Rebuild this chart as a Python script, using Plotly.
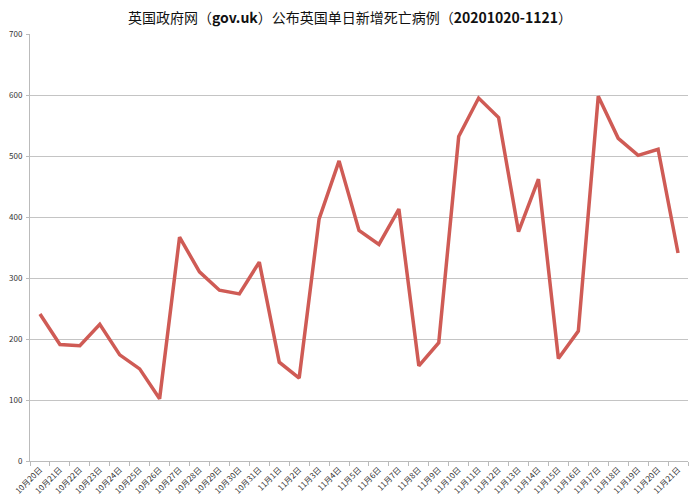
import plotly.graph_objects as go

dates = ["10月20日","10月21日","10月22日","10月23日","10月24日","10月25日","10月26日",
         "10月27日","10月28日","10月29日","10月30日","10月31日","11月1日","11月2日",
         "11月3日","11月4日","11月5日","11月6日","11月7日","11月8日","11月9日",
         "11月10日","11月11日","11月12日","11月13日","11月14日","11月15日","11月16日",
         "11月17日","11月18日","11月19日","11月20日","11月21日"]
deaths = [241,191,189,224,174,151,102,367,310,280,274,326,162,136,
          397,492,378,355,413,156,194,532,595,563,376,462,168,213,
          598,529,501,511,341]
y_ticks = [0,100,200,300,400,500,600,700]

font_family = "Noto Sans CJK SC, Noto Sans, sans-serif"

L, R, T, B = 22, 20, 26, 47
W, H = 700, 500
PW, PH = W - L - R, H - T - B

fig = go.Figure()
fig.add_trace(go.Scatter(
    x=dates, y=deaths, mode="lines",
    line=dict(color="#CF5B55", width=3.5),
    hoverinfo="x+y", showlegend=False,
))

fig.update_layout(
    width=W, height=H,
    margin=dict(l=L, r=R, t=T, b=B, autoexpand=False),
    paper_bgcolor="white", plot_bgcolor="white",
    font=dict(family=font_family, color="#222"),
    title=dict(
        text="英国政府网（<b>gov.uk</b>）公布英国单日新增死亡病例（<b>20201020-1121</b>）",
        x=342 / W, xref="container", y=1 - 10.5 / H, yref="container",
        xanchor="center", yanchor="middle",
        font=dict(size=14, family=font_family, color="#111"),
    ),
    xaxis=dict(
        type="category", range=[-0.5, len(dates) - 0.5], automargin=False,
        tickangle=-45, tickfont=dict(size=8, family=font_family, color="#333"),
        ticks="outside", ticklen=4, tickcolor="#bbb", tickson="boundaries",
        showline=True, linecolor="#bbb", linewidth=1,
        showgrid=False, zeroline=False, fixedrange=True,
    ),
    yaxis=dict(
        range=[0, 700], tickvals=y_ticks, automargin=False,
        tickfont=dict(size=8, family=font_family, color="#333"),
        ticks="outside", ticklen=3, tickcolor="#bbb",
        showline=True, linecolor="#bbb", linewidth=1,
        showgrid=True, gridcolor="#c4c4c4", gridwidth=1,
        zeroline=False, ticklabelstandoff=2, fixedrange=True,
    ),
    shapes=[
        dict(type="line", xref="paper", yref="paper",
             x0=(689 - L) / PW, x1=(689 - L) / PW, y0=-B / PH, y1=(PH + T) / PH,
             line=dict(color="#999", width=1)),
    ],
)

fig.write_html("out.html")
